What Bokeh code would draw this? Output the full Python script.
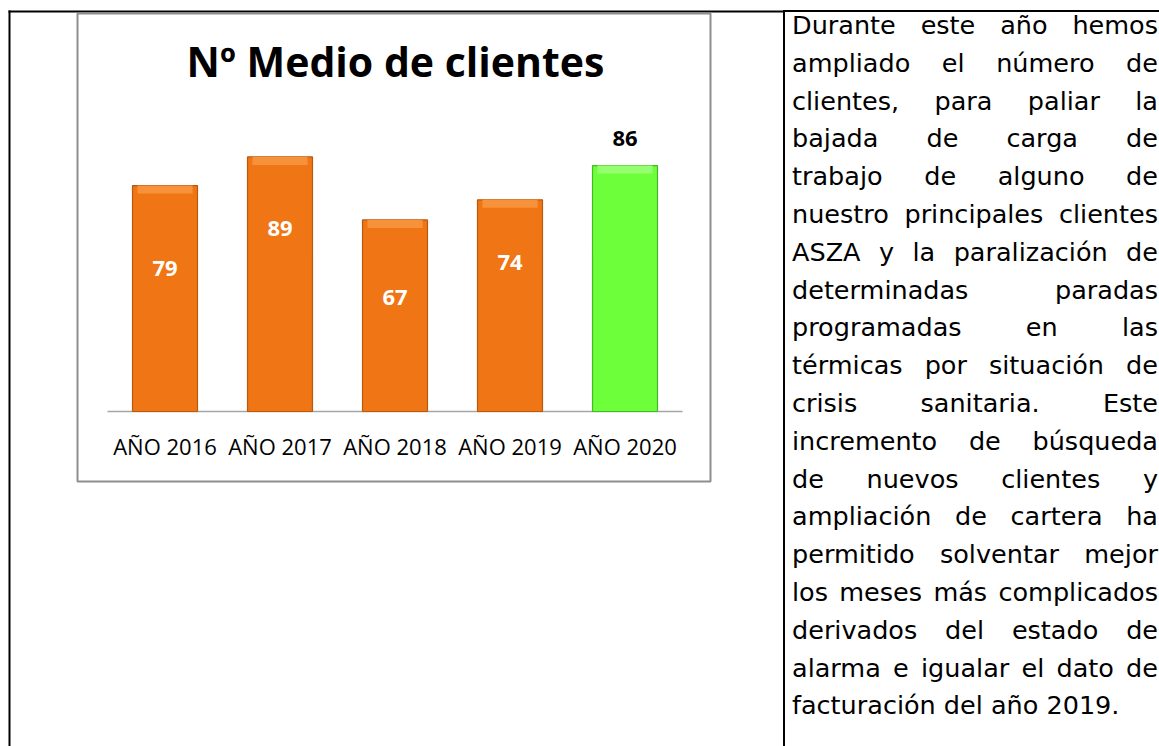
from bokeh.plotting import figure
from bokeh.models import ColumnDataSource, Label, BoxAnnotation, Div, Range1d, FactorRange, Spacer
from bokeh.layouts import row
from bokeh.embed import file_html
from bokeh.resources import INLINE
from bokeh.core.properties import value

# ---------------- data ----------------
years = ["AÑO 2016", "AÑO 2017", "AÑO 2018", "AÑO 2019", "AÑO 2020"]
clients = [79, 89, 67, 74, 86]
bar_colors = ["#F07515", "#F07515", "#F07515", "#F07515", "#6CFF3A"]
edge_colors = ["#B9590D", "#B9590D", "#B9590D", "#B9590D", "#45B824"]
top_colors = ["#F7923A", "#F7923A", "#F7923A", "#F7923A", "#95FF70"]
label_pos = [50, 64, 40, 52, 95.5]
label_colors = ["white", "white", "white", "white", "black"]
title_text = "Nº Medio de clientes"
paragraph_lines = [
    "Durante este año hemos",
    "ampliado el número de",
    "clientes, para paliar la",
    "bajada de carga de",
    "trabajo de alguno de",
    "nuestro principales clientes",
    "ASZA y la paralización de",
    "determinadas paradas",
    "programadas en las",
    "térmicas por situación de",
    "crisis sanitaria. Este",
    "incremento de búsqueda",
    "de nuevos clientes y",
    "ampliación de cartera ha",
    "permitido solventar mejor",
    "los meses más complicados",
    "derivados del estado de",
    "alarma e igualar el dato de",
    "facturación del año 2019.",
]

PAGE_H = 746
LEFT_PAD = 6            # spacer before the chart cell
FIG_W = 777             # chart cell width (page x 6..783)
DIV_W = 376             # text cell width (page x 783..1159)
PX_PER_UNIT = 2.86      # vertical scale of the chart
BASE_Y = 411            # canvas y (from top) of the value 0 baseline

src = ColumnDataSource(dict(
    x=years, top=clients, color=bar_colors, edge=edge_colors, topc=top_colors,
    hi_bottom=[v - 2.8 for v in clients],
    lp=label_pos, lt=[str(v) for v in clients], lc=label_colors,
))

x_range = FactorRange(factors=years, range_padding=0.3513, range_padding_units="percent")
y_range = Range1d(-(PAGE_H - BASE_Y) / PX_PER_UNIT, BASE_Y / PX_PER_UNIT)

p = figure(x_range=x_range, y_range=y_range, width=FIG_W, height=PAGE_H,
           output_backend="svg", toolbar_location=None,
           x_axis_location=None, y_axis_location=None, min_border=0)
p.outline_line_color = None
p.xgrid.grid_line_color = None
p.ygrid.grid_line_color = None

# baseline (category axis line)
p.line(x=[(years[0], -0.5), (years[-1], 0.5)], y=[0, 0], line_color="#A6A6A6", line_width=1.5)

p.vbar(x="x", top="top", width=0.565, source=src, fill_color="color",
       line_color="edge", line_width=1.2)
p.vbar(x="x", bottom="hi_bottom", top="top", width=0.48, source=src,
       fill_color="topc", line_color=None)
p.text(x="x", y="lp", text="lt", text_color="lc", source=src,
       text_font=value("Open Sans"), text_font_style="bold", text_font_size="22px",
       text_align="center", text_baseline="middle")

# category labels
p.text(x=years, y=[-12.2] * len(years), text=years, text_color="black",
       text_font=value("Open Sans"), text_font_size="22px",
       text_align="center", text_baseline="middle")


def box(l, r, t, b, **kw):
    return BoxAnnotation(left=l, right=r, top=t, bottom=b,
                         left_units="canvas", right_units="canvas",
                         top_units="canvas", bottom_units="canvas", **kw)


# table borders (black) and chart box (grey)
p.add_layout(box(2, 4, 10, PAGE_H, fill_color="black", fill_alpha=1, line_color=None))
p.add_layout(box(2, FIG_W, 10, 12, fill_color="black", fill_alpha=1, line_color=None))
p.add_layout(box(71, 704, 13, 481, fill_color=None, fill_alpha=0,
                 line_color="#8E8E8E", line_width=2, line_alpha=1))

p.add_layout(Label(x=389, y=60, x_units="canvas", y_units="canvas", text=title_text,
                   text_font="Open Sans", text_font_style="bold", text_font_size="41px",
                   text_color="black", text_align="center", text_baseline="middle"))

# right column text (justified lines)
parts = []
for i, line in enumerate(paragraph_lines):
    words = line.split(" ")
    if i < len(paragraph_lines) - 1:
        spans = "".join(f"<span>{w}</span>" for w in words)
        parts.append(f'<div style="display:flex;justify-content:space-between;white-space:nowrap;">{spans}</div>')
    else:
        parts.append(f'<div style="white-space:nowrap;">{line}</div>')

html = (
    f'<div style="margin-top:10px;border-top:2px solid #000;border-left:2px solid #000;'
    f'height:{PAGE_H - 10}px;width:{DIV_W}px;box-sizing:border-box;padding-left:7px;'
    'padding-right:1px;'
    "font-family:'DejaVu Sans';font-size:25.5px;line-height:37.8px;color:#000;\">"
    '<div style="position:relative;top:-5px;">' + "".join(parts) + '</div></div>'
)
d = Div(text=html, width=DIV_W, height=PAGE_H, margin=0)

layout = row(Spacer(width=LEFT_PAD, height=PAGE_H), p, d)
open("out.html", "w").write(file_html(layout, INLINE))
